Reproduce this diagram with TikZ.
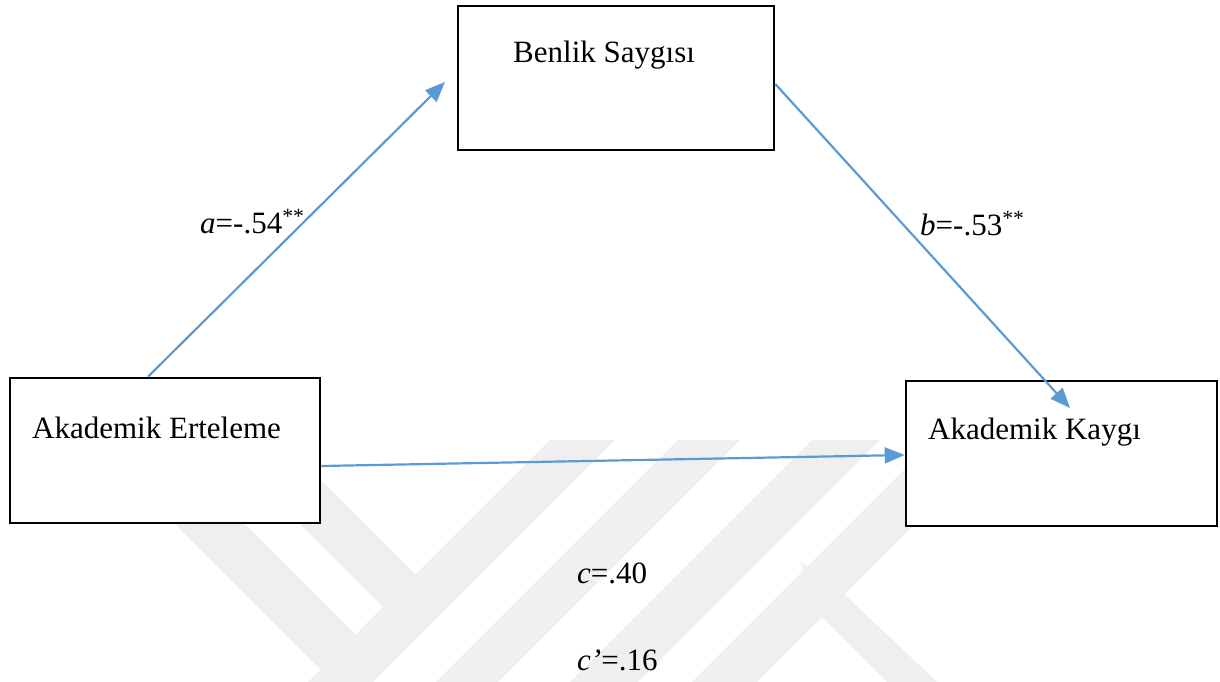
\documentclass[tikz,border=0pt]{standalone}
\usepackage{fontspec}
\setmainfont{Liberation Serif}
\usetikzlibrary{arrows.meta,calc}

\definecolor{linkblue}{HTML}{5B9BD5}
\definecolor{embgray}{HTML}{EFEFEF}

\tikzset{
  box/.style={draw=black, line width=2.6pt, fill=white, rectangle, inner sep=0pt},
  lbl/.style={inner sep=0pt, anchor=base west, font=\fontsize{31}{37}\selectfont},
  link/.style={draw=linkblue, line width=2.2pt, -{Triangle[length=20pt,width=16pt]}},
  emblem/.style={fill=embgray, draw=none}
}

\begin{document}
\begin{tikzpicture}[x=1pt,y=1pt]
\useasboundingbox (0,0) rectangle (1220,-682);

% faint background emblem: diagonal bands
\begin{scope}
\clip (0,-440) rectangle (1220,-682);
% rising bands
\fill[emblem] (550,-440) -- (615,-440) -- (373,-682) -- (308,-682) -- cycle;
\fill[emblem] (678,-440) -- (740,-440) -- (498,-682) -- (436,-682) -- cycle;
\fill[emblem] (812,-440) -- (880,-440) -- (638,-682) -- (570,-682) -- cycle;
\fill[emblem] (934,-440) -- (999,-440) -- (757,-682) -- (692,-682) -- cycle;
% falling arms joining the first band
\fill[emblem] (216,-440) -- (281,-440) -- (415.5,-574.5) -- (383,-607) -- cycle;
\fill[emblem] (91,-440) -- (161,-440) -- (355.5,-634.5) -- (320.5,-669.5) -- cycle;
% falling leg joining the last band
\fill[emblem] (800,-562) -- (842,-592) -- (937,-682) -- (887,-682) -- (822,-617) -- cycle;
\end{scope}

% boxes
\node[box, minimum width=316pt, minimum height=144pt] (B) at (616,-78) {};
\node[box, minimum width=310pt, minimum height=145pt] (E) at (165,-450.5) {};
\node[box, minimum width=311pt, minimum height=145pt] (K) at (1061.5,-453.5) {};

% box captions
\node[lbl] (tB) at (513,-63) {Benlik Saygısı};
\node[lbl] (tE) at (32,-438) {Akademik Erteleme};
\node[lbl] (tK) at (928,-439) {Akademik Kaygı};

% free arrow ends
\coordinate (aEnd) at (445,-82);
\coordinate (bEnd) at (1070,-408);

% paths
\draw[link] ([xshift=-17pt]E.north) -- (aEnd);
\draw[link] ([yshift=-6pt]B.east) -- (bEnd);
\draw[link] ([yshift=-15.5pt]E.east) -- ([yshift=-1.5pt]K.west);

% coefficients
\node[lbl] (la) at (200,-233) {\textit{a}=-.54\textsuperscript{**}};
\node[lbl] (lb) at (920,-235) {\textit{b}=-.53\textsuperscript{**}};
\node[lbl] (lc) at (577,-583) {\textit{c}=.40};
\node[lbl] (lcp) at (577,-670) {\textit{c’}=.16};
\end{tikzpicture}
\end{document}
